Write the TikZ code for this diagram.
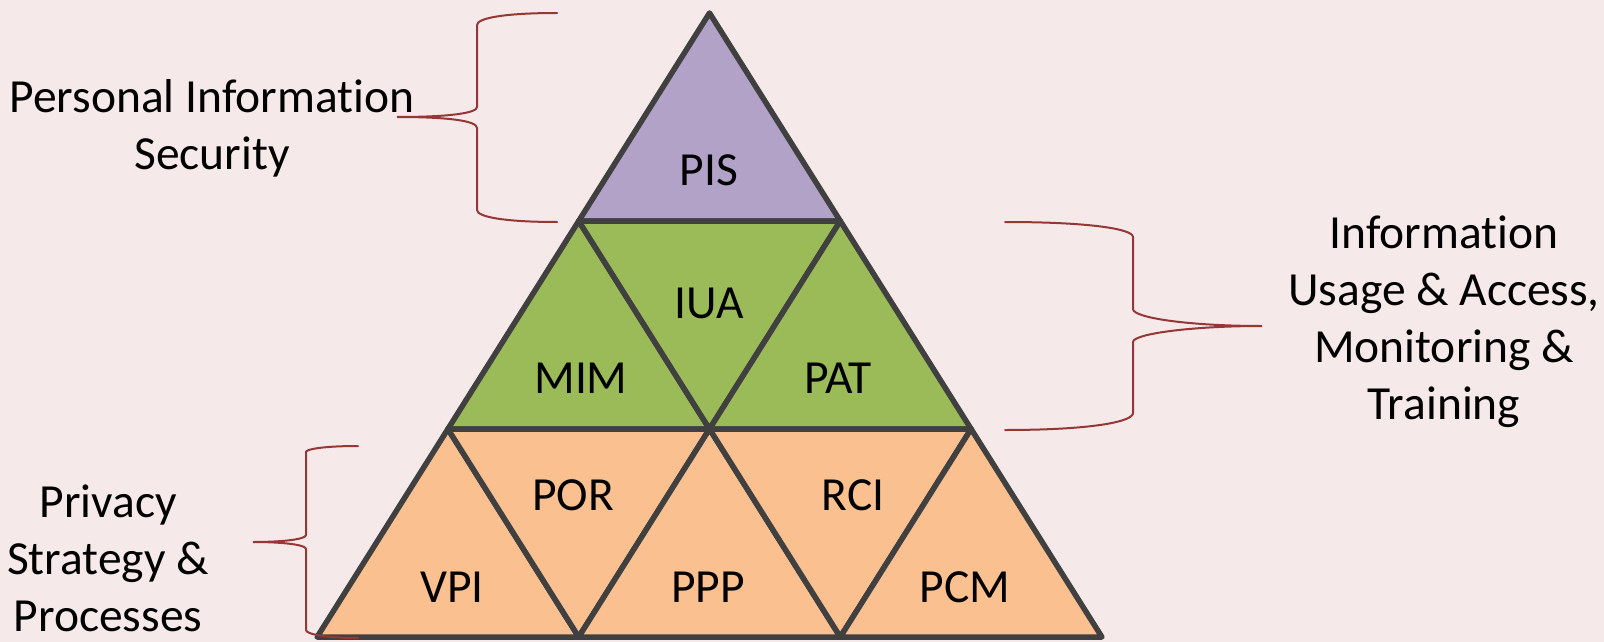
\documentclass[tikz,border=0pt]{standalone}
\usepackage{fontspec}
\setmainfont{Carlito}[Ligatures={NoCommon,NoContextual}]
\definecolor{bg}{HTML}{F6E9EA}
\definecolor{edge}{HTML}{404040}
\definecolor{toptri}{HTML}{B3A2C7}
\definecolor{midtri}{HTML}{9BBB59}
\definecolor{lowtri}{HTML}{FAC090}
\definecolor{bracecol}{HTML}{953735}
\newcommand\lblfont{\fontsize{47.5}{57}\selectfont}
\newcommand\stack[1]{\begin{tabular}[t]{@{}c@{}}#1\end{tabular}}
\tikzset{
  tri/.style={draw=edge, line width=5.5pt, line join=round},
  lbl/.style={font=\lblfont, inner sep=0pt, anchor=base, text=black},
  brace/.style={draw=bracecol, line width=2pt, line cap=round}
}
\begin{document}
\begin{tikzpicture}[x=1pt, y=-1pt]
  % canvas
  \fill[bg] (0,0) rectangle (1604,642);
  \useasboundingbox (0,0) rectangle (1604,642);

  % lattice points of the pyramid
  \coordinate (A)  at (709.5,13);
  \coordinate (B1) at (578.7,221);
  \coordinate (B2) at (840.3,221);
  \coordinate (C1) at (447.9,429);
  \coordinate (C2) at (709.5,429);
  \coordinate (C3) at (971.1,429);
  \coordinate (D1) at (317.1,637);
  \coordinate (D2) at (578.7,637);
  \coordinate (D3) at (840.3,637);
  \coordinate (D4) at (1101.9,637);

  % top tier
  \filldraw[tri, fill=toptri] (A) -- (B1) -- (B2) -- cycle;
  % middle tier
  \filldraw[tri, fill=midtri] (B1) -- (C1) -- (C2) -- cycle;
  \filldraw[tri, fill=midtri] (B1) -- (B2) -- (C2) -- cycle;
  \filldraw[tri, fill=midtri] (B2) -- (C2) -- (C3) -- cycle;
  % bottom tier
  \filldraw[tri, fill=lowtri] (C1) -- (D1) -- (D2) -- cycle;
  \filldraw[tri, fill=lowtri] (C1) -- (C2) -- (D2) -- cycle;
  \filldraw[tri, fill=lowtri] (C2) -- (D2) -- (D3) -- cycle;
  \filldraw[tri, fill=lowtri] (C2) -- (C3) -- (D3) -- cycle;
  \filldraw[tri, fill=lowtri] (C3) -- (D3) -- (D4) -- cycle;

  % tier labels
  \node[lbl] (pis) at (709,185) {PIS};
  \node[lbl] (iua) at (709,318) {IUA};
  \node[lbl] (mim) at (581,393) {MIM};
  \node[lbl] (pat) at (838,393) {PAT};
  \node[lbl] (por) at (573,510) {POR};
  \node[lbl] (rci) at (853,510) {RCI};
  \node[lbl] (vpi) at (452,602) {VPI};
  \node[lbl] (ppp) at (708,602) {PPP};
  \node[lbl] (pcm) at (965,602) {PCM};

  % group captions
  \node[lbl] (cap1) at (212,113) {\stack{Personal Information\\Security}};
  \node[lbl] (cap2) at (1444,248) {\stack{Information\\Usage \& Access,\\Monitoring \&\\Training}};
  \node[lbl] (cap3) at (108,517) {\stack{Privacy\\Strategy \&\\Processes}};

  % braces
  \draw[brace] (557,13) .. controls (505,13) and (477,18) .. (477,25)
    -- (477,107) .. controls (477,113) and (450,117) .. (397,117)
    .. controls (450,117) and (477,121) .. (477,128)
    -- (477,210) .. controls (477,217) and (505,222) .. (557,222);
  \draw[brace] (1005,222) .. controls (1090,222) and (1133,229) .. (1133,237)
    -- (1133,309) .. controls (1133,318) and (1190,326) .. (1262,326)
    .. controls (1190,326) and (1133,334) .. (1133,342)
    -- (1133,413) .. controls (1133,422) and (1090,430) .. (1005,430);
  \draw[brace] (358,446) .. controls (325,446) and (306,449) .. (306,452)
    -- (306,535) .. controls (306,539) and (285,542) .. (253,542)
    .. controls (285,542) and (306,545) .. (306,549)
    -- (306,630) .. controls (306,634) and (325,638) .. (358,638);
\end{tikzpicture}
\end{document}
